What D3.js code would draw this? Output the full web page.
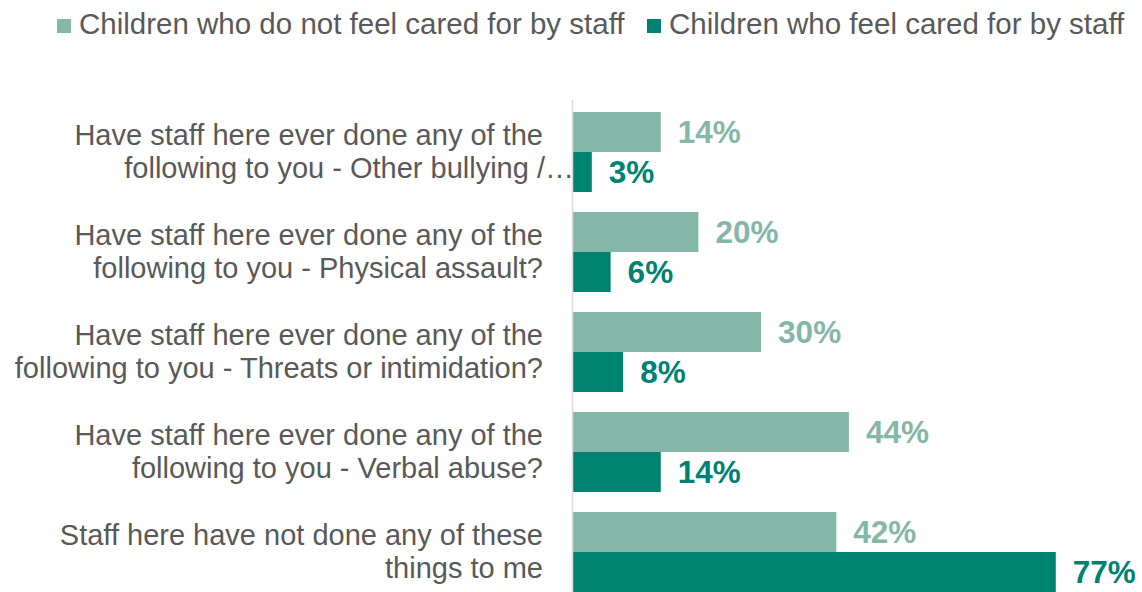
<!DOCTYPE html>
<html><head><meta charset="utf-8">
<script src="https://cdn.jsdelivr.net/npm/d3@7"></script>
<style>body{margin:0;background:#fff}svg{display:block;font-family:"Liberation Sans",Arial,sans-serif}</style>
</head><body><svg id="c" width="1142" height="592"></svg>
<script>
const categories = [
  ["Have staff here ever done any of the", "following to you - Other bullying /…"],
  ["Have staff here ever done any of the", "following to you - Physical assault?"],
  ["Have staff here ever done any of the", "following to you - Threats or intimidation?"],
  ["Have staff here ever done any of the", "following to you - Verbal abuse?"],
  ["Staff here have not done any of these", "things to me"]
];
const seriesNames = ["Children who do not feel cared for by staff", "Children who feel cared for by staff"];
const notCared = [14, 20, 30, 44, 42];
const cared = [3, 6, 8, 14, 77];
const colors = ["#85b7a9", "#008272"];

const svg = d3.select("#c");
const x = d3.scaleLinear().domain([0, 100]).range([573, 573 + 627]);
const y0 = d3.scaleBand().domain(d3.range(categories.length)).range([102, 602]).paddingInner(0.2).paddingOuter(0.1);
const y1 = d3.scaleBand().domain([0, 1]).range([0, y0.bandwidth()]);

const series = [notCared, cared];
series.forEach((vals, si) => {
  svg.append("g").selectAll("rect").data(vals).join("rect")
    .attr("x", x(0)).attr("y", (d, i) => y0(i) + y1(si))
    .attr("width", d => x(d) - x(0)).attr("height", y1.bandwidth())
    .attr("fill", colors[si]);
  svg.append("g").selectAll("text").data(vals).join("text")
    .attr("x", d => x(d) + 17).attr("y", (d, i) => y0(i) + y1(si) + y1.bandwidth() / 2)
    .attr("dy", "0.36em").attr("font-size", 31.5).attr("font-weight", "bold")
    .attr("fill", colors[si]).text(d => d + "%");
});

// axis line
svg.append("line").attr("x1", 572.5).attr("x2", 572.5).attr("y1", 100).attr("y2", 592)
  .attr("stroke", "#d9d9d9").attr("stroke-width", 1.5);

// category labels
const cg = svg.append("g");
categories.forEach((lines, i) => {
  const cy = y0(i) + y0.bandwidth() / 2;
  const t = cg.append("text").attr("text-anchor", "end").attr("font-size", 29).attr("fill", "#595959");
  lines.forEach((l, j) => {
    const truncated = l.endsWith("…");
    t.append("tspan").attr("x", truncated ? 574 : 543).attr("y", cy - 7 + j * 33).text(l);
  });
});

// legend
const lg = svg.append("g");
const legX = [57, 647];
seriesNames.forEach((n, i) => {
  lg.append("rect").attr("x", legX[i]).attr("y", 19).attr("width", 14).attr("height", 14).attr("fill", colors[i]);
  lg.append("text").attr("x", legX[i] + 22).attr("y", 34)
    .attr("font-size", 29.5).attr("fill", "#595959").text(n);
});
</script></body></html>
